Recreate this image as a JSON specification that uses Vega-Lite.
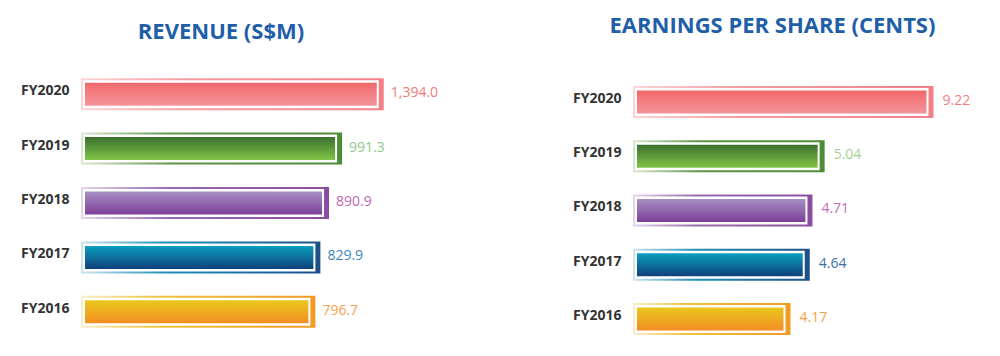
{
  "$schema": "https://vega.github.io/schema/vega-lite/v6.json",
  "padding": {"left": 20, "top": 15, "right": 0, "bottom": 0},
  "autosize": {"type": "pad"},
  "bounds": "flush",
  "spacing": 236,
  "config": {
    "view": {"stroke": null},
    "font": "Open Sans",
    "axis": {"domain": false, "ticks": false, "grid": false}
  },
  "hconcat": [
    {
      "width": 316,
      "height": 272,
      "title": {"text": "REVENUE (S$M)", "fontSize": 22, "fontWeight": "bold", "color": "#1f5ea8", "font": "Open Sans", "anchor": "middle", "frame": "group", "dx": -22, "offset": 6, "baseline": "alphabetic"},
      "data": {"values": [
        {"year": "FY2020", "value": 1394.0},
        {"year": "FY2019", "value": 991.3},
        {"year": "FY2018", "value": 890.9},
        {"year": "FY2017", "value": 829.9},
        {"year": "FY2016", "value": 796.7}
      ]},
      "encoding": {
        "y": {"field": "year", "type": "nominal", "sort": ["FY2020", "FY2019", "FY2018", "FY2017", "FY2016"], "scale": {"paddingInner": 0, "paddingOuter": 0},
              "axis": {"title": null, "labelFontWeight": "bold", "labelFontSize": 14, "labelColor": "#333333", "labelPadding": 16, "labelOffset": -3, "labelFont": "Open Sans"}},
        "x": {"field": "value", "type": "quantitative", "scale": {"type": "log", "domain": [128, 1700], "zero": false, "nice": false}, "axis": null}
      },
      "layer": [
        {"transform": [{"filter": "datum.year == 'FY2020'"}], "mark": {"type": "bar", "height": 32, "xOffset": 7, "x2Offset": -4, "fill": {"gradient": "linear", "x1": 0, "y1": 0, "x2": 1, "y2": 0, "stops": [{"offset": 0, "color": "#fbd5d7"}, {"offset": 0.35, "color": "#f59da3"}, {"offset": 1, "color": "#f37f87"}]}}, "encoding": {"x2": {"datum": 128}}},
        {"transform": [{"filter": "datum.year == 'FY2019'"}], "mark": {"type": "bar", "height": 32, "xOffset": 7, "x2Offset": -4, "fill": {"gradient": "linear", "x1": 0, "y1": 0, "x2": 1, "y2": 0, "stops": [{"offset": 0, "color": "#dbe9d3"}, {"offset": 0.35, "color": "#5a9444"}, {"offset": 1, "color": "#4c8c35"}]}}, "encoding": {"x2": {"datum": 128}}},
        {"transform": [{"filter": "datum.year == 'FY2018'"}], "mark": {"type": "bar", "height": 32, "xOffset": 7, "x2Offset": -4, "fill": {"gradient": "linear", "x1": 0, "y1": 0, "x2": 1, "y2": 0, "stops": [{"offset": 0, "color": "#e4d6ea"}, {"offset": 0.35, "color": "#9a6bb0"}, {"offset": 1, "color": "#8a4ca0"}]}}, "encoding": {"x2": {"datum": 128}}},
        {"transform": [{"filter": "datum.year == 'FY2017'"}], "mark": {"type": "bar", "height": 32, "xOffset": 7, "x2Offset": -4, "fill": {"gradient": "linear", "x1": 0, "y1": 0, "x2": 1, "y2": 0, "stops": [{"offset": 0, "color": "#cfe6ef"}, {"offset": 0.35, "color": "#1e90b4"}, {"offset": 1, "color": "#1c4f88"}]}}, "encoding": {"x2": {"datum": 128}}},
        {"transform": [{"filter": "datum.year == 'FY2016'"}], "mark": {"type": "bar", "height": 32, "xOffset": 7, "x2Offset": -4, "fill": {"gradient": "linear", "x1": 0, "y1": 0, "x2": 1, "y2": 0, "stops": [{"offset": 0, "color": "#fbeecb"}, {"offset": 0.35, "color": "#eec239"}, {"offset": 1, "color": "#f29a24"}]}}, "encoding": {"x2": {"datum": 128}}},
        {"mark": {"type": "bar", "height": 28, "xOffset": 2, "x2Offset": -2, "fill": "#ffffff"}, "encoding": {"x2": {"datum": 128}}},
        {"transform": [{"filter": "datum.year == 'FY2020'"}], "mark": {"type": "bar", "height": 23, "fill": {"gradient": "linear", "x1": 0, "y1": 0, "x2": 0, "y2": 1, "stops": [{"offset": 0, "color": "#f0686a"}, {"offset": 1, "color": "#f5959c"}]}}, "encoding": {"x2": {"datum": 128}}},
        {"transform": [{"filter": "datum.year == 'FY2019'"}], "mark": {"type": "bar", "height": 23, "fill": {"gradient": "linear", "x1": 0, "y1": 0, "x2": 0, "y2": 1, "stops": [{"offset": 0, "color": "#3d7030"}, {"offset": 1, "color": "#80c545"}]}}, "encoding": {"x2": {"datum": 128}}},
        {"transform": [{"filter": "datum.year == 'FY2018'"}], "mark": {"type": "bar", "height": 23, "fill": {"gradient": "linear", "x1": 0, "y1": 0, "x2": 0, "y2": 1, "stops": [{"offset": 0, "color": "#a890c2"}, {"offset": 1, "color": "#7d3f97"}]}}, "encoding": {"x2": {"datum": 128}}},
        {"transform": [{"filter": "datum.year == 'FY2017'"}], "mark": {"type": "bar", "height": 23, "fill": {"gradient": "linear", "x1": 0, "y1": 0, "x2": 0, "y2": 1, "stops": [{"offset": 0, "color": "#0aa0c0"}, {"offset": 1, "color": "#10407a"}]}}, "encoding": {"x2": {"datum": 128}}},
        {"transform": [{"filter": "datum.year == 'FY2016'"}], "mark": {"type": "bar", "height": 23, "fill": {"gradient": "linear", "x1": 0, "y1": 0, "x2": 0, "y2": 1, "stops": [{"offset": 0, "color": "#e9c81f"}, {"offset": 1, "color": "#f38d22"}]}}, "encoding": {"x2": {"datum": 128}}},
        {"mark": {"type": "text", "align": "left", "baseline": "middle", "dx": 14, "dy": -1, "fontSize": 14, "font": "Open Sans"},
         "encoding": {"text": {"field": "value", "type": "quantitative", "format": ",.1f"},
                      "color": {"field": "year", "type": "nominal", "scale": {"domain": ["FY2020", "FY2019", "FY2018", "FY2017", "FY2016"], "range": ["#f07a7a", "#8fc98a", "#c266b6", "#3a87b9", "#f5a24c"]}, "legend": null}}}
      ]
    },
    {
      "width": 337,
      "height": 279,
      "title": {"text": "EARNINGS PER SHARE (CENTS)", "fontSize": 22, "fontWeight": "bold", "color": "#1f5ea8", "font": "Open Sans", "anchor": "middle", "frame": "group", "dx": -33, "offset": 12, "baseline": "alphabetic"},
      "data": {"values": [
        {"year": "FY2020", "value": 9.22},
        {"year": "FY2019", "value": 5.04},
        {"year": "FY2018", "value": 4.71},
        {"year": "FY2017", "value": 4.64},
        {"year": "FY2016", "value": 4.17}
      ]},
      "encoding": {
        "y": {"field": "year", "type": "nominal", "sort": ["FY2020", "FY2019", "FY2018", "FY2017", "FY2016"], "scale": {"paddingInner": 0, "paddingOuter": 0.0737, "align": 1},
              "axis": {"title": null, "labelFontWeight": "bold", "labelFontSize": 14, "labelColor": "#333333", "labelPadding": 16, "labelOffset": -3, "labelFont": "Open Sans"}},
        "x": {"field": "value", "type": "quantitative", "scale": {"type": "log", "domain": [1.85, 12], "zero": false, "nice": false}, "axis": null}
      },
      "layer": [
        {"transform": [{"filter": "datum.year == 'FY2020'"}], "mark": {"type": "bar", "height": 32, "xOffset": 7, "x2Offset": -4, "fill": {"gradient": "linear", "x1": 0, "y1": 0, "x2": 1, "y2": 0, "stops": [{"offset": 0, "color": "#fbd5d7"}, {"offset": 0.35, "color": "#f59da3"}, {"offset": 1, "color": "#f37f87"}]}}, "encoding": {"x2": {"datum": 1.85}}},
        {"transform": [{"filter": "datum.year == 'FY2019'"}], "mark": {"type": "bar", "height": 32, "xOffset": 7, "x2Offset": -4, "fill": {"gradient": "linear", "x1": 0, "y1": 0, "x2": 1, "y2": 0, "stops": [{"offset": 0, "color": "#dbe9d3"}, {"offset": 0.35, "color": "#5a9444"}, {"offset": 1, "color": "#4c8c35"}]}}, "encoding": {"x2": {"datum": 1.85}}},
        {"transform": [{"filter": "datum.year == 'FY2018'"}], "mark": {"type": "bar", "height": 32, "xOffset": 7, "x2Offset": -4, "fill": {"gradient": "linear", "x1": 0, "y1": 0, "x2": 1, "y2": 0, "stops": [{"offset": 0, "color": "#e4d6ea"}, {"offset": 0.35, "color": "#9a6bb0"}, {"offset": 1, "color": "#8a4ca0"}]}}, "encoding": {"x2": {"datum": 1.85}}},
        {"transform": [{"filter": "datum.year == 'FY2017'"}], "mark": {"type": "bar", "height": 32, "xOffset": 7, "x2Offset": -4, "fill": {"gradient": "linear", "x1": 0, "y1": 0, "x2": 1, "y2": 0, "stops": [{"offset": 0, "color": "#cfe6ef"}, {"offset": 0.35, "color": "#1e90b4"}, {"offset": 1, "color": "#1c4f88"}]}}, "encoding": {"x2": {"datum": 1.85}}},
        {"transform": [{"filter": "datum.year == 'FY2016'"}], "mark": {"type": "bar", "height": 32, "xOffset": 7, "x2Offset": -4, "fill": {"gradient": "linear", "x1": 0, "y1": 0, "x2": 1, "y2": 0, "stops": [{"offset": 0, "color": "#fbeecb"}, {"offset": 0.35, "color": "#eec239"}, {"offset": 1, "color": "#f29a24"}]}}, "encoding": {"x2": {"datum": 1.85}}},
        {"mark": {"type": "bar", "height": 28, "xOffset": 2, "x2Offset": -2, "fill": "#ffffff"}, "encoding": {"x2": {"datum": 1.85}}},
        {"transform": [{"filter": "datum.year == 'FY2020'"}], "mark": {"type": "bar", "height": 23, "fill": {"gradient": "linear", "x1": 0, "y1": 0, "x2": 0, "y2": 1, "stops": [{"offset": 0, "color": "#f0686a"}, {"offset": 1, "color": "#f5959c"}]}}, "encoding": {"x2": {"datum": 1.85}}},
        {"transform": [{"filter": "datum.year == 'FY2019'"}], "mark": {"type": "bar", "height": 23, "fill": {"gradient": "linear", "x1": 0, "y1": 0, "x2": 0, "y2": 1, "stops": [{"offset": 0, "color": "#3d7030"}, {"offset": 1, "color": "#80c545"}]}}, "encoding": {"x2": {"datum": 1.85}}},
        {"transform": [{"filter": "datum.year == 'FY2018'"}], "mark": {"type": "bar", "height": 23, "fill": {"gradient": "linear", "x1": 0, "y1": 0, "x2": 0, "y2": 1, "stops": [{"offset": 0, "color": "#a890c2"}, {"offset": 1, "color": "#7d3f97"}]}}, "encoding": {"x2": {"datum": 1.85}}},
        {"transform": [{"filter": "datum.year == 'FY2017'"}], "mark": {"type": "bar", "height": 23, "fill": {"gradient": "linear", "x1": 0, "y1": 0, "x2": 0, "y2": 1, "stops": [{"offset": 0, "color": "#0aa0c0"}, {"offset": 1, "color": "#10407a"}]}}, "encoding": {"x2": {"datum": 1.85}}},
        {"transform": [{"filter": "datum.year == 'FY2016'"}], "mark": {"type": "bar", "height": 23, "fill": {"gradient": "linear", "x1": 0, "y1": 0, "x2": 0, "y2": 1, "stops": [{"offset": 0, "color": "#e9c81f"}, {"offset": 1, "color": "#f38d22"}]}}, "encoding": {"x2": {"datum": 1.85}}},
        {"mark": {"type": "text", "align": "left", "baseline": "middle", "dx": 16, "dy": -1, "fontSize": 14, "font": "Open Sans"},
         "encoding": {"text": {"field": "value", "type": "quantitative", "format": ".2f"},
                      "color": {"field": "year", "type": "nominal", "scale": {"domain": ["FY2020", "FY2019", "FY2018", "FY2017", "FY2016"], "range": ["#f08080", "#a6cf88", "#c56bb7", "#3a72aa", "#f5a340"]}, "legend": null}}}
      ]
    }
  ],
  "resolve": {"scale": {"color": "independent", "x": "independent", "y": "independent"}}
}
